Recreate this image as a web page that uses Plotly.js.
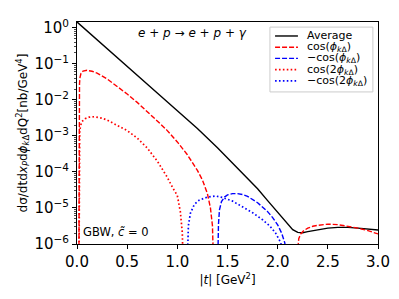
<!DOCTYPE html>
<html><head><meta charset="utf-8">
<script src="https://cdn.plot.ly/plotly-3.0.1.min.js"></script>
<style>body{margin:0;background:#fff}</style></head>
<body><div id="chart" style="width:399px;height:299px"></div>
<script>
// |t| [GeV^2] and cross sections [nb/GeV^4]
const tAvg = [0, 0.2, 0.4, 0.6, 0.8, 1.0, 1.2, 1.4, 1.6, 1.7, 1.8, 1.9, 2.0, 2.05, 2.1, 2.15, 2.2, 2.25, 2.3, 2.4, 2.5, 2.6, 2.7, 2.8, 2.9, 3.0];
const avg  = [1.45, 0.46, 0.15, 0.048, 0.0155, 5.0e-3, 1.6e-3, 4.7e-4, 1.3e-4, 6.8e-5, 3.4e-5, 1.6e-5, 7.6e-6, 5.0e-6, 3.4e-6, 2.5e-6, 2.1e-6, 2.05e-6, 2.2e-6, 2.5e-6, 2.75e-6, 2.9e-6, 2.9e-6, 2.75e-6, 2.6e-6, 2.45e-6];

const tCos1 = [0.017, 0.019, 0.021, 0.025, 0.03, 0.04, 0.06, 0.08, 0.1, 0.15, 0.2, 0.3, 0.4, 0.5, 0.6, 0.7, 0.8, 0.9, 1.0, 1.1, 1.2, 1.25, 1.3, 1.33, 1.35, 1.36,
               1.8,
               2.19, 2.2, 2.21, 2.23, 2.26, 2.3, 2.35, 2.4, 2.5, 2.6, 2.7, 2.8, 2.9, 3.0];
const cos1  = [1e-8, 3.2e-4, 0.01, 0.028, 0.042, 0.054, 0.063, 0.066, 0.066, 0.062, 0.055, 0.038, 0.024, 0.0145, 8.5e-3, 4.8e-3, 2.6e-3, 1.4e-3, 6.8e-4, 3.0e-4, 1.1e-4, 6.0e-5, 2.5e-5, 1.0e-5, 3.2e-6, 3.2e-7,
               null,
               3.2e-7, 1.0e-6, 1.4e-6, 1.9e-6, 2.35e-6, 2.75e-6, 3.1e-6, 3.3e-6, 3.55e-6, 3.45e-6, 3.15e-6, 2.75e-6, 2.35e-6, 1.9e-6];

const tMinusCos1 = [1.40, 1.405, 1.41, 1.42, 1.44, 1.47, 1.5, 1.55, 1.6, 1.65, 1.7, 1.8, 1.9, 1.95, 2.0, 2.04, 2.07, 2.09, 2.1];
const minusCos1  = [1e-7, 1e-6, 3.5e-6, 8.9e-6, 1.5e-5, 2.0e-5, 2.3e-5, 2.5e-5, 2.5e-5, 2.35e-5, 2.1e-5, 1.4e-5, 7.9e-6, 5.4e-6, 3.4e-6, 2.0e-6, 1.1e-6, 5e-7, 1e-7];

const tCos2 = [0.017, 0.019, 0.022, 0.027, 0.035, 0.05, 0.08, 0.12, 0.17, 0.25, 0.3, 0.4, 0.5, 0.6, 0.7, 0.8, 0.9, 0.95, 1.0, 1.03, 1.05, 1.06];
const cos2  = [1e-8, 3.2e-5, 5.0e-4, 1.26e-3, 1.9e-3, 2.5e-3, 3.0e-3, 3.3e-3, 3.4e-3, 3.1e-3, 2.75e-3, 2.0e-3, 1.4e-3, 8.7e-4, 4.6e-4, 2.0e-4, 7.1e-5, 3.8e-5, 2.2e-5, 7.9e-6, 2.0e-6, 1e-7];

const tMinusCos2 = [1.095, 1.10, 1.11, 1.13, 1.17, 1.22, 1.3, 1.38, 1.45, 1.55, 1.65, 1.75, 1.85, 1.92, 1.98, 2.03, 2.06, 2.08];
const minusCos2  = [1e-7, 1e-6, 3.2e-6, 7.1e-6, 1.26e-5, 1.66e-5, 2.0e-5, 2.15e-5, 1.95e-5, 1.55e-5, 1.1e-5, 7.4e-6, 4.7e-6, 3.2e-6, 2.0e-6, 1.1e-6, 5e-7, 1e-7];

const seriesNames = ['Average',
  'cos(<i>ϕ</i><sub><i>k</i>Δ</sub>)',
  '−cos(<i>ϕ</i><sub><i>k</i>Δ</sub>)',
  'cos(2<i>ϕ</i><sub><i>k</i>Δ</sub>)',
  '−cos(2<i>ϕ</i><sub><i>k</i>Δ</sub>)'];
const xTickVals = [0, 0.5, 1.0, 1.5, 2.0, 2.5, 3.0];
const yTickVals = [1e-6, 1e-5, 1e-4, 1e-3, 1e-2, 1e-1, 1];
const yTickText = ['10<sup>−6</sup>', '10<sup>−5</sup>', '10<sup>−4</sup>', '10<sup>−3</sup>', '10<sup>−2</sup>', '10<sup>−1</sup>', '10<sup>0</sup>'];

const colors = ['#000000', '#ff0000', '#0000ff', '#ff0000', '#0000ff'];
const dashes = ['solid', '5px,2px', '5px,2px', '1.6px,2.3px', '1.6px,2.3px'];
const widths = [1.4, 1.4, 1.4, 1.7, 1.7];
const xs = [tAvg, tCos1, tMinusCos1, tCos2, tMinusCos2];
const ys = [avg, cos1, minusCos1, cos2, minusCos2];

const traces = xs.map((x, i) => ({
  x: x, y: ys[i], type: 'scatter', mode: 'lines', name: seriesNames[i],
  line: {color: colors[i], width: widths[i], dash: dashes[i]},
  connectgaps: false, showlegend: false, hoverinfo: 'skip'
}));

const minorVals = [];
for (let k = -6; k < 1; k++) for (let m = 2; m <= 9; m++) minorVals.push(m * Math.pow(10, k));

const FONT = 'DejaVu Sans, sans-serif';
const shapes = [];
const annotations = [];
// legend box
shapes.push({type: 'rect', xref: 'paper', yref: 'paper', x0: 0.641, x1: 0.983, y0: 0.685, y1: 0.977,
  line: {color: '#cccccc', width: 1}, fillcolor: 'rgba(255,255,255,0.8)', layer: 'above'});
const legY0 = 0.937, legStep = 0.0505;
seriesNames.forEach((n, i) => {
  const y = legY0 - i * legStep;
  shapes.push({type: 'line', xref: 'paper', yref: 'paper', x0: 0.658, x1: 0.734, y0: y, y1: y,
    line: {color: colors[i], width: widths[i], dash: dashes[i]}, layer: 'above'});
  annotations.push({xref: 'paper', yref: 'paper', x: 0.758, y: y, xanchor: 'left', yanchor: 'middle',
    text: n, showarrow: false, font: {family: FONT, size: 11, color: '#000'}});
});
annotations.push({xref: 'paper', yref: 'paper', x: 0.385, y: 0.95, xanchor: 'center', yanchor: 'middle',
  text: '<i>e</i> + <i>p</i> → <i>e</i> + <i>p</i> + <i>γ</i>', showarrow: false,
  font: {family: FONT, size: 12, color: '#000'}});
annotations.push({xref: 'paper', yref: 'paper', x: 0.012, y: 0.054, xanchor: 'left', yanchor: 'middle',
  text: 'GBW, <i>c̃</i> = 0', showarrow: false, font: {family: FONT, size: 11.5, color: '#000'}});

const layout = {
  width: 399, height: 299,
  margin: {l: 77, r: 21, t: 22, b: 55},
  paper_bgcolor: '#fff', plot_bgcolor: '#fff',
  font: {family: FONT, color: '#000'},
  showlegend: false,
  xaxis: {
    range: [0, 3], tickmode: 'array', tickvals: xTickVals, tickformat: '.1f',
    ticks: 'outside', ticklen: 4, tickwidth: 1, tickcolor: '#000',
    showline: true, mirror: true, linecolor: '#000', linewidth: 1,
    showgrid: false, zeroline: false,
    tickfont: {family: FONT, size: 15},
    title: {text: '|<i>t</i>| [GeV<sup>2</sup>]', font: {family: FONT, size: 12}, standoff: 4}
  },
  yaxis: {
    type: 'log', range: [-6, 0.16], tickmode: 'array', tickvals: yTickVals, ticktext: yTickText,
    ticks: 'outside', ticklen: 4, tickwidth: 1, tickcolor: '#000',
    minor: {tickmode: 'array', tickvals: minorVals, ticks: 'outside', ticklen: 2, tickwidth: 0.7, tickcolor: '#000', showgrid: false},
    showline: true, mirror: true, linecolor: '#000', linewidth: 1,
    showgrid: false, zeroline: false,
    tickfont: {family: FONT, size: 15},
    title: {text: 'dσ/dtd<i>x</i><sub><i>P</i></sub>d<i>ϕ</i><sub><i>k</i>Δ</sub>dQ<sup>2</sup>[nb/GeV<sup>4</sup>]',
            font: {family: FONT, size: 12}, standoff: 4}
  },
  yaxis2: {
    type: 'log', range: [-6, 0.16], overlaying: 'y', side: 'right', anchor: 'x',
    tickmode: 'array', tickvals: yTickVals, showticklabels: false,
    ticks: 'inside', ticklen: 4, tickwidth: 1, tickcolor: '#000',
    minor: {tickmode: 'array', tickvals: minorVals, ticks: 'inside', ticklen: 2, tickwidth: 0.7, tickcolor: '#000', showgrid: false},
    showline: false, showgrid: false, zeroline: false
  },
  shapes: shapes,
  annotations: annotations
};

Plotly.newPlot('chart', traces, layout, {staticPlot: true, displayModeBar: false});
</script>
</body></html>
